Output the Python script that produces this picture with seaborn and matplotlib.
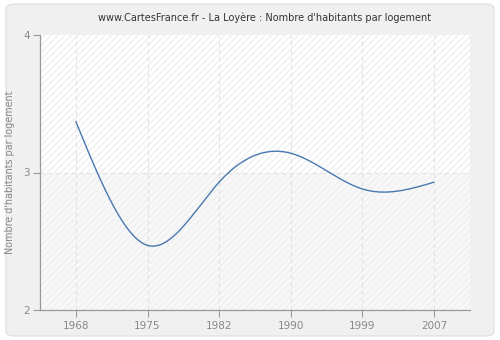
import numpy as np
import pandas as pd
import matplotlib
matplotlib.use("Agg")
import matplotlib.pyplot as plt
import seaborn as sns
from matplotlib.patches import FancyBboxPatch, Rectangle

years = ["1968", "1975", "1982", "1990", "1999", "2007"]
values = [3.37, 2.47, 2.93, 3.14, 2.88, 2.93]
y_ticks = [2, 3, 4]
title = "www.CartesFrance.fr - La Loyère : Nombre d'habitants par logement"
ylabel = "Nombre d'habitants par logement"


def natural_spline(x, y, n=400):
    x = np.asarray(x, float); y = np.asarray(y, float)
    k = len(x)
    h = np.diff(x)
    A = np.zeros((k, k)); b = np.zeros(k)
    A[0, 0] = A[-1, -1] = 1
    for i in range(1, k - 1):
        A[i, i - 1] = h[i - 1]; A[i, i] = 2 * (h[i - 1] + h[i]); A[i, i + 1] = h[i]
        b[i] = 6 * ((y[i + 1] - y[i]) / h[i] - (y[i] - y[i - 1]) / h[i - 1])
    M = np.linalg.solve(A, b)
    xs = np.linspace(x[0], x[-1], n)
    idx = np.clip(np.searchsorted(x, xs) - 1, 0, k - 2)
    x0, x1 = x[idx], x[idx + 1]; hh = x1 - x0
    ys = (M[idx] * (x1 - xs) ** 3 / (6 * hh) + M[idx + 1] * (xs - x0) ** 3 / (6 * hh)
          + (y[idx] / hh - M[idx] * hh / 6) * (x1 - xs)
          + (y[idx + 1] / hh - M[idx + 1] * hh / 6) * (xs - x0))
    return xs, ys


sns.set_style("white")
plt.rcParams['font.family'] = ['DejaVu Sans']

fig = plt.figure(figsize=(5, 3.4), dpi=100)
fig.patch.set_facecolor("white")
bg = FancyBboxPatch((0.012, 0.012), 0.976, 0.976, boxstyle="round,pad=0,rounding_size=0.015",
                    transform=fig.transFigure, facecolor="#f0f0f0", edgecolor="#e2e2e2",
                    linewidth=1, zorder=-10)
fig.patches.append(bg)

ax = fig.add_axes([40 / 500, 1 - 310 / 340, 430 / 500, 275 / 340])
ax.set_zorder(1)
ax.set_facecolor("white")

xs, ys = natural_spline(np.arange(len(values)), values)
df = pd.DataFrame({"x": xs, "y": ys})

ax.add_patch(Rectangle((-0.5, 2), 6, 1, facecolor="#f8f8f8", edgecolor="none", zorder=0))
ax.add_patch(Rectangle((-0.5, 2), 6, 2, facecolor="none", edgecolor="#efefef", hatch="/////",
                       linewidth=0, zorder=0.5))

for i in range(len(years)):
    ax.axvline(i, color="#e2e2e2", linestyle=(0, (4, 3)), linewidth=0.8, zorder=1)
ax.axhline(3, color="#e2e2e2", linestyle=(0, (4, 3)), linewidth=0.8, zorder=1)

sns.lineplot(data=df, x="x", y="y", ax=ax, color="#4a78b0", linewidth=1.0, zorder=3)

ax.set_xlim(-0.5, 5.5)
ax.set_ylim(2, 4)
ax.set_xticks(range(len(years)))
ax.set_xticklabels(years)
ax.set_yticks(y_ticks)
ax.set_yticklabels([str(t) for t in y_ticks])
ax.set_xlabel("")
ax.set_ylabel(ylabel, color="#888888", fontsize=6.9, labelpad=6)
ax.tick_params(axis="both", colors="#999999", labelcolor="#888888", labelsize=7.5, length=5, width=0.8,
               direction="out", bottom=True, left=True)
ax.tick_params(axis="x", pad=3)
ax.tick_params(axis="y", pad=2)
for s in ["top", "right"]:
    ax.spines[s].set_visible(False)
for s in ["left", "bottom"]:
    ax.spines[s].set_color("#999999")
    ax.spines[s].set_linewidth(0.9)

fig.text(0.53, 1 - 18 / 340, title, ha="center", va="center", fontsize=7, color="#333333")

fig.savefig("out.png", dpi=100)
